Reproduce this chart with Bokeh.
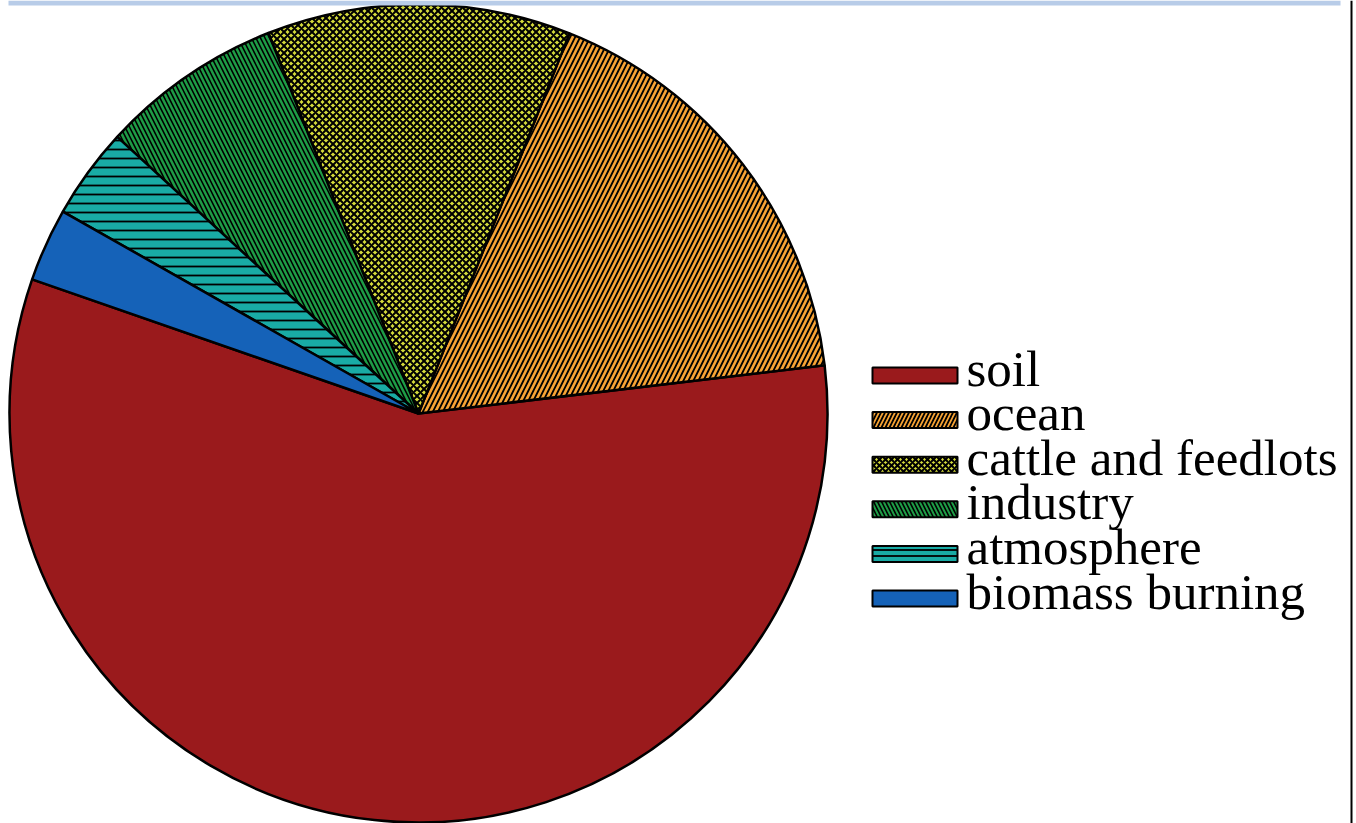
import numpy as np
from bokeh.plotting import figure
from bokeh.models import Range1d, ColumnDataSource
from bokeh.core.properties import value
from bokeh.embed import file_html
from bokeh.resources import INLINE

# Source shares (percent of total emission)
sources = ["soil", "ocean", "cattle and feedlots", "industry", "atmosphere", "biomass burning"]
shares = [57.2, 17.1, 12.0, 7.2, 3.6, 2.9]

fills = ["#9A1A1C", "#F7A334", "#D4DA3C", "#1E9C46", "#19ABA5", "#1562B8"]
hatches = [" ", "/", "x", "\\", "-", " "]
hatch_scales = [12, 10, 7, 9, 9, 12]
hatch_weights = [1.0, 1.8, 2.0, 1.6, 1.8, 1.0]

W, H = 1356, 823
p = figure(width=W, height=H, x_range=Range1d(0, W), y_range=Range1d(0, H),
           x_axis_type=None, y_axis_type=None, toolbar_location=None,
           output_backend="svg", min_border=0)
p.outline_line_color = None
p.background_fill_color = "white"
p.border_fill_color = "white"

# pie geometry (1 data unit = 1 px)
cx, cy, r = 418, H - 413, 409
offset = np.deg2rad(160.85)
frac = np.array(shares) / np.sum(shares)
ends = offset + 2 * np.pi * np.cumsum(frac)
starts = np.concatenate([[offset], ends[:-1]])

src = ColumnDataSource(dict(
    start=starts, end=ends, color=fills, hatch=hatches,
    hscale=hatch_scales, hweight=hatch_weights, name=sources,
))
p.wedge(x=cx, y=cy, radius=r, start_angle="start", end_angle="end", source=src,
        fill_color="color", line_color="black", line_width=2.5,
        hatch_pattern="hatch", hatch_scale="hscale", hatch_weight="hweight",
        hatch_color="black")

# legend: swatches and labels
n = len(sources)
row = np.arange(n)
sw_center = 375 + 44.6 * row
text_base = sw_center - 7
leg = ColumnDataSource(dict(
    x=np.full(n, 914.5), y=H - sw_center, color=fills, hatch=hatches,
    hscale=[6, 8, 6, 8, 6, 6], hweight=hatch_weights,
    tx=np.full(n, 966.0), ty=H - text_base, name=sources,
))
p.rect(x="x", y="y", width=85, height=16, source=leg, fill_color="color",
       line_color="black", line_width=2, hatch_pattern="hatch",
       hatch_scale="hscale", hatch_weight="hweight", hatch_color="black")
p.text(x="tx", y="ty", text="name", source=leg, text_font=value("Liberation Serif"),
       text_font_size="51px", text_color="black", text_baseline="alphabetic",
       text_align="left")

# header strip and right frame line
p.quad(left=8, right=1340, bottom=H - 5, top=H, fill_color="#B8CCE8", line_color=None)
p.segment(x0=1351, y0=0, x1=1351, y1=H, line_color="black", line_width=2)

open("out.html", "w").write(file_html(p, INLINE))
